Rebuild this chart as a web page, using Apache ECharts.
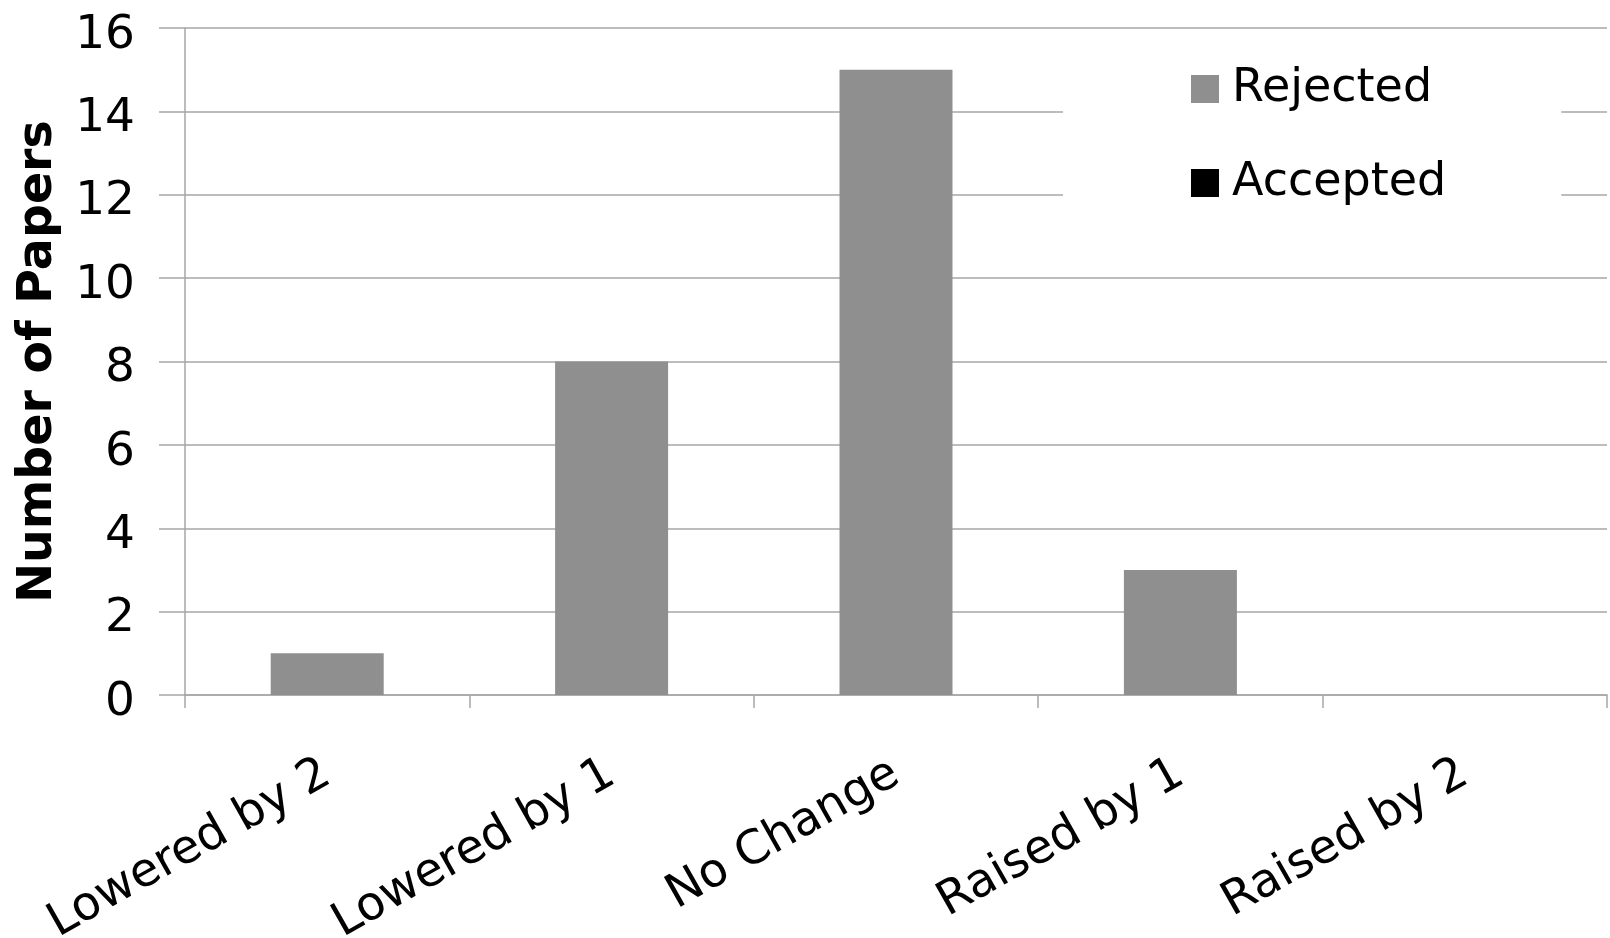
<!DOCTYPE html>
<html>
<head>
<meta charset="utf-8">
<script src="https://cdn.jsdelivr.net/npm/echarts@6/dist/echarts.min.js"></script>
<style>
html,body{margin:0;padding:0;background:#fff;}
#chart{width:1610px;height:938px;}
</style>
</head>
<body>
<div id="chart"></div>
<script>
const categories = ['Lowered by 2', 'Lowered by 1', 'No Change', 'Raised by 1', 'Raised by 2'];
const rejected = [1, 8, 15, 3, 0];
const accepted = [0, 0, 0, 0, 0];
const yTicks = [0, 2, 4, 6, 8, 10, 12, 14, 16];

const FONT = 'DejaVu Sans';
const GRID = '#a6a6a6';

const chart = echarts.init(document.getElementById('chart'), null, {renderer: 'canvas'});
chart.setOption({
  animation: false,
  backgroundColor: '#ffffff',
  textStyle: {fontFamily: FONT},
  grid: {left: 185, right: 3, top: 28, bottom: 243, containLabel: false, outerBoundsMode: 'none'},
  legend: {
    orient: 'vertical',
    left: 1063,
    top: 41,
    padding: [25, 115, 25, 128],
    backgroundColor: '#ffffff',
    itemWidth: 28,
    itemHeight: 28,
    itemGap: 48,
    icon: 'rect',
    textStyle: {fontFamily: FONT, fontSize: 46, color: '#000', padding: [0, 0, 0, 8]},
    data: ['Rejected', 'Accepted']
  },
  xAxis: {
    type: 'category',
    data: categories,
    axisLine: {show: true, lineStyle: {color: GRID, width: 1.5}},
    axisTick: {show: true, length: 13, lineStyle: {color: GRID, width: 1.5}},
    axisLabel: {rotate: 29.5, margin: 76, fontFamily: FONT, fontSize: 47, color: '#000', interval: 0}
  },
  yAxis: {
    type: 'value',
    min: yTicks[0],
    max: yTicks[yTicks.length - 1],
    interval: 2,
    name: 'Number of Papers',
    nameLocation: 'middle',
    nameGap: 122,
    nameRotate: 90,
    nameTextStyle: {fontFamily: FONT, fontSize: 47.5, fontWeight: 'bold', color: '#000'},
    axisLine: {show: true, lineStyle: {color: GRID, width: 1.5}},
    axisTick: {show: true, length: 26, lineStyle: {color: GRID, width: 1.5}},
    axisLabel: {
      margin: 50,
      formatter: function (v) { return '{d|' + v + '}'; },
      rich: {d: {fontFamily: FONT, fontSize: 47, color: '#000', lineHeight: 62, verticalAlign: 'bottom'}}
    },
    splitLine: {show: true, lineStyle: {color: GRID, width: 1.5}}
  },
  series: [
    {name: 'Rejected', type: 'bar', data: rejected, barWidth: 113, barGap: '-100%',
     itemStyle: {color: '#8f8f8f'}},
    {name: 'Accepted', type: 'bar', data: accepted, barWidth: 113,
     itemStyle: {color: '#000000'}}
  ]
});
</script>
</body>
</html>
